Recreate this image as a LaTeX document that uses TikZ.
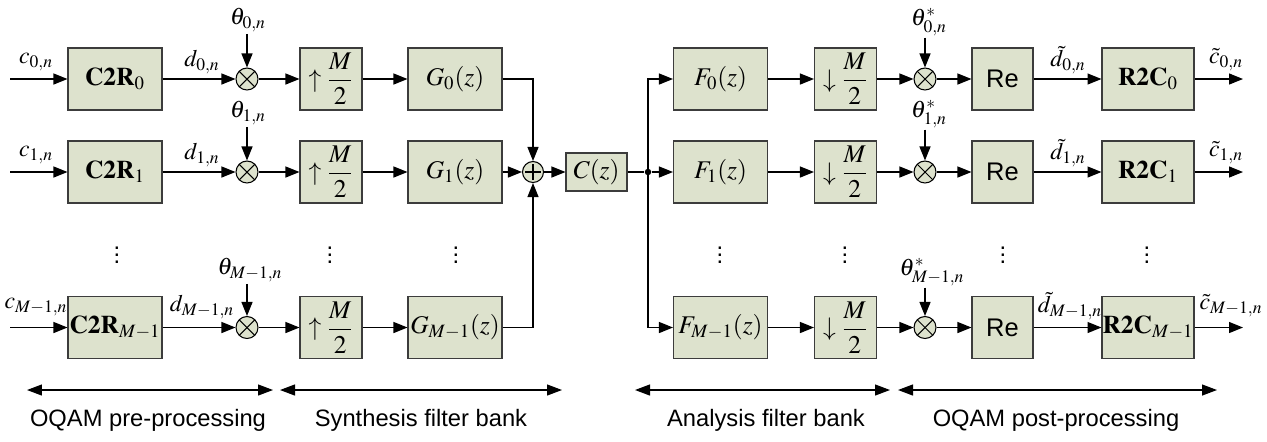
\documentclass[tikz,border=0pt]{standalone}
\usepackage{amsmath, amssymb}
\usepackage{mathptmx}
\usepackage[no-math]{fontspec}
\setmainfont{Liberation Sans}
\usepackage{xcolor}
\usepackage{tikz}
\usetikzlibrary{arrows.meta}

\definecolor{boxfill}{RGB}{221,226,205}
\definecolor{boxline}{RGB}{60,60,60}

\tikzset{
  blockbox/.style={draw=boxline, fill=boxfill, line width=0.6pt, minimum height=1.24cm, inner sep=0pt, font=\fontsize{14.5}{16}\selectfont},
  widebox/.style={blockbox, minimum width=1.88cm},
  narrowbox/.style={blockbox, minimum width=1.24cm},
  mixer/.style={circle, draw=black, fill=boxfill, line width=0.6pt, minimum size=0.44cm, inner sep=0pt,
    path picture={\draw[line width=0.6pt] ([shift={(-0.156cm,-0.156cm)}]path picture bounding box.center) -- ([shift={(0.156cm,0.156cm)}]path picture bounding box.center);
                  \draw[line width=0.6pt] ([shift={(-0.156cm,0.156cm)}]path picture bounding box.center) -- ([shift={(0.156cm,-0.156cm)}]path picture bounding box.center);}},
  adder/.style={circle, draw=black, fill=boxfill, line width=0.6pt, minimum size=0.42cm, inner sep=0pt,
    path picture={\draw[line width=0.6pt] ([xshift=-0.16cm]path picture bounding box.center) -- ([xshift=0.16cm]path picture bounding box.center);
                  \draw[line width=0.6pt] ([yshift=-0.16cm]path picture bounding box.center) -- ([yshift=0.16cm]path picture bounding box.center);}},
  sig/.style={-{Triangle[length=0.28cm,width=0.22cm]}, line width=0.7pt},
  span/.style={{Triangle[length=0.3cm,width=0.22cm]}-{Triangle[length=0.3cm,width=0.22cm]}, line width=0.7pt},
  lbl/.style={inner sep=1pt, font=\fontsize{13.5}{15}\selectfont},
  caption/.style={font=\fontsize{13.5}{15}\selectfont},
}

\begin{document}
\begin{tikzpicture}[x=0.02cm, y=-0.02cm]
\useasboundingbox (0,0) rectangle (1267,441);

\coordinate (in0) at (10,79);
\coordinate (in1) at (10,172);
\coordinate (inM) at (10,327.5);
\coordinate (out0) at (1243,79);
\coordinate (out1) at (1243,172);
\coordinate (outM) at (1243,327.5);

\node[widebox] (c2r0) at (115,79) {$\mathbf{C2R}_0$};
\node[widebox] (c2r1) at (115,172) {$\mathbf{C2R}_1$};
\node[widebox] (c2rM) at (115,327.5) {$\mathbf{C2R}_{M-1}$};

\node[mixer] (mx0) at (247,79) {};
\node[mixer] (mx1) at (247,172) {};
\node[mixer] (mxM) at (247,327.5) {};

\node[narrowbox] (up0) at (331,79) {$\uparrow\dfrac{M}{2}$};
\node[narrowbox] (up1) at (331,172) {$\uparrow\dfrac{M}{2}$};
\node[narrowbox] (upM) at (331,327.5) {$\uparrow\dfrac{M}{2}$};

\node[widebox] (g0) at (455,79) {$G_0(z)$};
\node[widebox] (g1) at (455,172) {$G_1(z)$};
\node[widebox] (gM) at (455,327.5) {$G_{M-1}(z)$};

\node[adder] (sum) at (533,172) {};
\node[blockbox, minimum width=1.22cm, minimum height=0.76cm] (chan) at (596.5,172) {$C(z)$};
\node[circle, fill=black, inner sep=0pt, minimum size=0.13cm] (split) at (648,172) {};

\node[widebox] (f0) at (720.5,79) {$F_0(z)$};
\node[widebox] (f1) at (720.5,172) {$F_1(z)$};
\node[widebox] (fM) at (720.5,327.5) {$F_{M-1}(z)$};

\node[narrowbox] (dn0) at (845.5,79) {$\downarrow\dfrac{M}{2}$};
\node[narrowbox] (dn1) at (845.5,172) {$\downarrow\dfrac{M}{2}$};
\node[narrowbox] (dnM) at (845.5,327.5) {$\downarrow\dfrac{M}{2}$};

\node[mixer] (my0) at (925,79) {};
\node[mixer] (my1) at (925,172) {};
\node[mixer] (myM) at (925,327.5) {};

\node[narrowbox, minimum width=1.22cm] (re0) at (1002.5,79) {Re};
\node[narrowbox, minimum width=1.22cm] (re1) at (1002.5,172) {Re};
\node[narrowbox, minimum width=1.22cm] (reM) at (1002.5,327.5) {Re};

\node[widebox, minimum width=1.84cm] (r2c0) at (1148,79) {$\mathbf{R2C}_0$};
\node[widebox, minimum width=1.84cm] (r2c1) at (1148,172) {$\mathbf{R2C}_1$};
\node[widebox, minimum width=1.84cm] (r2cM) at (1148,327.5) {$\mathbf{R2C}_{M-1}$};

\node[lbl] (lc0) at (36,62) {$c_{0,n}$};
\node[lbl] (lc1) at (36,155) {$c_{1,n}$};
\node[lbl] (lcM) at (36,307) {$c_{M-1,n}$};
\node[lbl] (ld0) at (202,62) {$d_{0,n}$};
\node[lbl] (ld1) at (202,155) {$d_{1,n}$};
\node[lbl] (ldM) at (202,307) {$d_{M-1,n}$};
\node[lbl] (th0) at (248,20) {$\theta_{0,n}$};
\node[lbl] (th1) at (248,113) {$\theta_{1,n}$};
\node[lbl] (thM) at (250,270) {$\theta_{M-1,n}$};
\node[lbl] (thy0) at (929,22) {$\theta^*_{0,n}$};
\node[lbl] (thy1) at (929,114) {$\theta^*_{1,n}$};
\node[lbl] (thyM) at (932,272) {$\theta^*_{M-1,n}$};
\node[lbl] (ldt0) at (1068,60) {$\tilde{d}_{0,n}$};
\node[lbl] (ldt1) at (1068,153) {$\tilde{d}_{1,n}$};
\node[lbl] (ldtM) at (1070,306) {$\tilde{d}_{M-1,n}$};
\node[lbl] (lct0) at (1226,60) {$\tilde{c}_{0,n}$};
\node[lbl] (lct1) at (1226,153) {$\tilde{c}_{1,n}$};
\node[lbl] (lctM) at (1231,306) {$\tilde{c}_{M-1,n}$};

\node[lbl] (vd1) at (117,250) {$\vdots$};
\node[lbl] (vd2) at (330,250) {$\vdots$};
\node[lbl] (vd3) at (456,250) {$\vdots$};
\node[lbl] (vd4) at (720,250) {$\vdots$};
\node[lbl] (vd5) at (845,250) {$\vdots$};
\node[lbl] (vd6) at (1003,250) {$\vdots$};
\node[lbl] (vd7) at (1147,250) {$\vdots$};

\draw[sig] (in0) -- (c2r0);
\draw[sig] (in1) -- (c2r1);
\draw[sig] (inM) -- (c2rM);
\draw[sig] (c2r0) -- (mx0);
\draw[sig] (c2r1) -- (mx1);
\draw[sig] (c2rM) -- (mxM);
\draw[sig] (th0.south -| mx0) -- (mx0);
\draw[sig] (th1.south -| mx1) -- (mx1);
\draw[sig] (thM.south -| mxM) -- (mxM);
\draw[sig] (mx0) -- (up0);
\draw[sig] (mx1) -- (up1);
\draw[sig] (mxM) -- (upM);
\draw[sig] (up0) -- (g0);
\draw[sig] (up1) -- (g1);
\draw[sig] (upM) -- (gM);
\draw[sig] (g0) -| (sum);
\draw[sig] (g1) -- (sum);
\draw[sig] (gM) -| (sum);
\draw[sig] (sum) -- (chan);
\draw[line width=0.7pt] (chan) -- (split);
\draw[sig] (split.center) |- (f0);
\draw[sig] (split) -- (f1);
\draw[sig] (split.center) |- (fM);
\draw[sig] (f0) -- (dn0);
\draw[sig] (f1) -- (dn1);
\draw[sig] (fM) -- (dnM);
\draw[sig] (dn0) -- (my0);
\draw[sig] (dn1) -- (my1);
\draw[sig] (dnM) -- (myM);
\draw[sig] (thy0.south -| my0) -- (my0);
\draw[sig] (thy1.south -| my1) -- (my1);
\draw[sig] (thyM.south -| myM) -- (myM);
\draw[sig] (my0) -- (re0);
\draw[sig] (my1) -- (re1);
\draw[sig] (myM) -- (reM);
\draw[sig] (re0) -- (r2c0);
\draw[sig] (re1) -- (r2c1);
\draw[sig] (reM) -- (r2cM);
\draw[sig] (r2c0) -- (out0);
\draw[sig] (r2c1) -- (out1);
\draw[sig] (r2cM) -- (outM);

\coordinate (s1a) at (27,390);
\coordinate (s1b) at (273,390);
\coordinate (s2a) at (280,390);
\coordinate (s2b) at (562,390);
\coordinate (s3a) at (635,390);
\coordinate (s3b) at (890,390);
\coordinate (s4a) at (898,390);
\coordinate (s4b) at (1217,390);
\draw[span] (s1a) -- (s1b);
\draw[span] (s2a) -- (s2b);
\draw[span] (s3a) -- (s3b);
\draw[span] (s4a) -- (s4b);
\node[caption] (cap1) at (148,420) {OQAM pre-processing};
\node[caption] (cap2) at (421,420) {Synthesis filter bank};
\node[caption] (cap3) at (766,420) {Analysis filter bank};
\node[caption] (cap4) at (1056,420) {OQAM post-processing};
\end{tikzpicture}
\end{document}
